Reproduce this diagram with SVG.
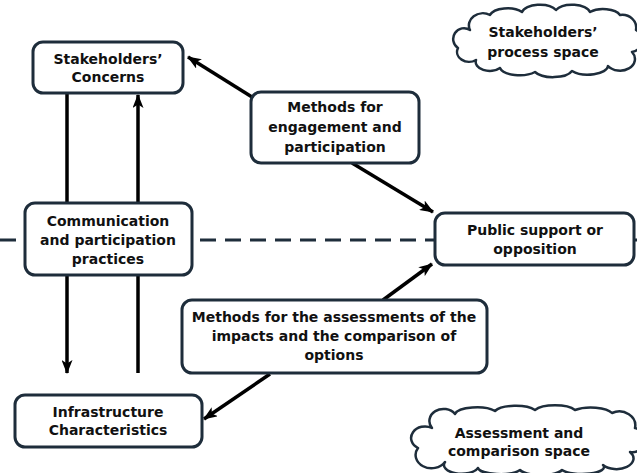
<svg xmlns="http://www.w3.org/2000/svg" width="637" height="473" viewBox="0 0 637 473">
<defs>
<marker id="ah" viewBox="0 0 14 11" refX="13" refY="5.5" markerWidth="14" markerHeight="11" markerUnits="userSpaceOnUse" orient="auto">
<path d="M0,0 L14,5.5 L0,11 L3.5,5.5 Z" fill="#000"/>
</marker>
<style>
.box{fill:#fff;stroke:#1e2d3b;stroke-width:3}
.cloud{fill:#fff;stroke:#1e2d3b;stroke-width:2.5;stroke-linejoin:round}
.t{font-family:"DejaVu Sans",Verdana,sans-serif;font-size:14px;font-weight:bold;fill:#111;text-anchor:middle}
.c{stroke:#000;stroke-width:3.5;fill:none}
.ca{stroke:#000;stroke-width:3.5;fill:none;marker-end:url(#ah)}
.dash{stroke:#1e2d3b;stroke-width:3;stroke-dasharray:16 9;fill:none}
</style>
</defs>
<rect width="637" height="473" fill="#fff"/>
<line class="dash" x1="0" y1="240" x2="637" y2="240"/>
<g id="connectors">
<line class="c" x1="67" y1="93" x2="67" y2="203"/>
<line class="ca" x1="138" y1="203" x2="138" y2="95"/>
<line class="ca" x1="67" y1="275" x2="67" y2="373"/>
<line class="c" x1="138" y1="373" x2="138" y2="275"/>
<line class="ca" x1="252" y1="97" x2="188" y2="57"/>
<line class="ca" x1="352" y1="163" x2="433" y2="212"/>
<line class="ca" x1="383" y1="300" x2="432" y2="264"/>
<line class="ca" x1="270" y1="374" x2="204" y2="419"/>
</g>
<g id="stakeholders-concerns">
<rect class="box" x="33" y="42" width="150" height="51" rx="10"/>
<text class="t" x="108" y="64">Stakeholders’</text>
<text class="t" x="108" y="82">Concerns</text>
</g>
<g id="methods-engagement">
<rect class="box" x="251" y="92" width="168" height="71" rx="10"/>
<text class="t" x="335" y="112">Methods for</text>
<text class="t" x="335" y="132">engagement and</text>
<text class="t" x="335" y="152">participation</text>
</g>
<g id="communication">
<rect class="box" x="25" y="203" width="167" height="72" rx="10"/>
<text class="t" x="108" y="226">Communication</text>
<text class="t" x="108" y="245">and participation</text>
<text class="t" x="108" y="264">practices</text>
</g>
<g id="public-support">
<rect class="box" x="435" y="213" width="199" height="52" rx="10"/>
<text class="t" x="535" y="235">Public support or</text>
<text class="t" x="535" y="254">opposition</text>
</g>
<g id="methods-assessment">
<rect class="box" x="182" y="300" width="305" height="73" rx="10"/>
<text class="t" x="334" y="322">Methods for the assessments of the</text>
<text class="t" x="334" y="341">impacts and the comparison of</text>
<text class="t" x="334" y="360">options</text>
</g>
<g id="infrastructure">
<rect class="box" x="15" y="395" width="187" height="52" rx="10"/>
<text class="t" x="108" y="417">Infrastructure</text>
<text class="t" x="108" y="435">Characteristics</text>
</g>
<g id="cloud-stakeholders">
<path class="cloud" d="M470,30 A14,12 0 0 1 490,15 A18,9 0 0 1 522,12 A18,9 0 0 1 556,10 A18,9 0 0 1 590,12 A18,9 0 0 1 620,15 A14,13 0 0 1 636,30 A12,12 0 0 1 632,52 A14,11 0 0 1 608,66 A20,9 0 0 1 572,71 A20,9 0 0 1 535,72 A20,9 0 0 1 500,68 A14,9 0 0 1 476,60 A12,10 0 0 1 458,48 A10,10 0 0 1 470,30 Z"/>
<text class="t" x="543" y="37">Stakeholders’</text>
<text class="t" x="543" y="57">process space</text>
</g>
<g id="cloud-assessment">
<path class="cloud" d="M432,428 A14,12 0 0 1 455,414 A22,8 0 0 1 495,411 A22,8 0 0 1 535,410 A22,8 0 0 1 575,410 A22,8 0 0 1 612,413 A16,14 0 0 1 635,428 A12,12 0 0 1 630,452 A16,10 0 0 1 603,465 A22,7 0 0 1 562,470 A22,7 0 0 1 520,470 A22,7 0 0 1 478,468 A16,8 0 0 1 445,462 A12,10 0 0 1 418,448 A12,10 0 0 1 432,428 Z"/>
<text class="t" x="519" y="438">Assessment and</text>
<text class="t" x="519" y="456">comparison space</text>
</g>
</svg>
